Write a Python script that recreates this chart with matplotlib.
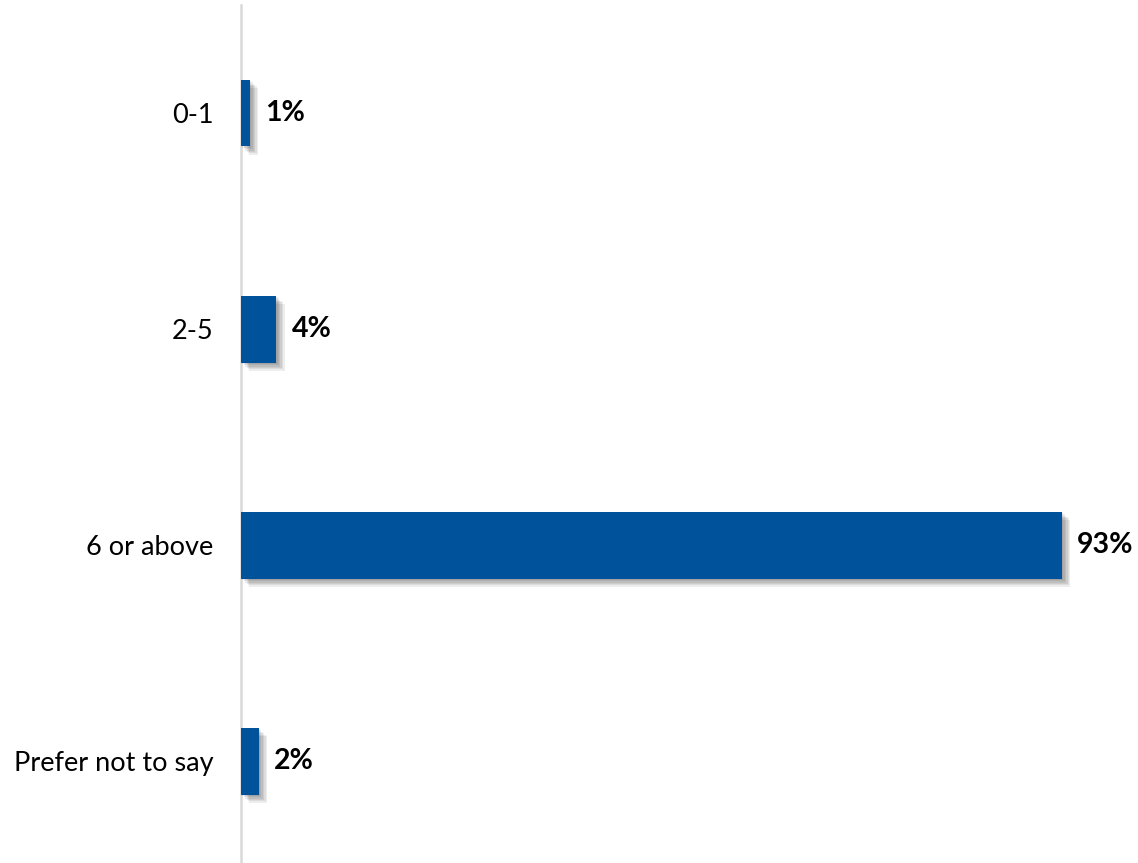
import matplotlib.pyplot as plt
import matplotlib.patheffects as pe

# Survey responses, share of respondents
CATEGORIES = ["0-1", "2-5", "6 or above", "Prefer not to say"]
VALUES = [1, 4, 93, 2]
VALUE_LABELS = ["1%", "4%", "93%", "2%"]

BAR_COLOR = "#00529B"

plt.rcParams["font.family"] = ["Lato", "DejaVu Sans"]

fig = plt.figure(figsize=(11.38, 8.63), dpi=100)
ax = fig.add_axes([241 / 1138, 0, 1 - 241 / 1138, 858 / 863])

ypos = list(range(len(CATEGORIES)))
bars = ax.barh(ypos, VALUES, height=0.31, color=BAR_COLOR, zorder=3)

# soft drop shadow built from a few faint offset copies
shadow = [pe.SimplePatchShadow(offset=(d, -d), shadow_rgbFace="#000000", alpha=0.07)
          for d in (1, 2, 3, 4, 5, 6)]
for b in bars:
    b.set_path_effects(shadow + [pe.Normal()])

for y, v, lab in zip(ypos, VALUES, VALUE_LABELS):
    ax.annotate(lab, (v, y), xytext=(11, 0), textcoords="offset points",
                va="center", ha="left", fontsize=20.5, fontweight="bold",
                color="black")

ax.set_xlim(0, 101.6)
ax.set_ylim(3.472, -0.5)
ax.set_yticks(ypos)
ax.set_yticklabels(CATEGORIES, fontsize=19.5)
ax.tick_params(axis="y", length=0, pad=20)
ax.set_xticks([])

for side in ["top", "right", "bottom"]:
    ax.spines[side].set_visible(False)
ax.spines["left"].set_color("#d9d9d9")
ax.spines["left"].set_linewidth(1.8)

fig.savefig("out.png", dpi=100)
